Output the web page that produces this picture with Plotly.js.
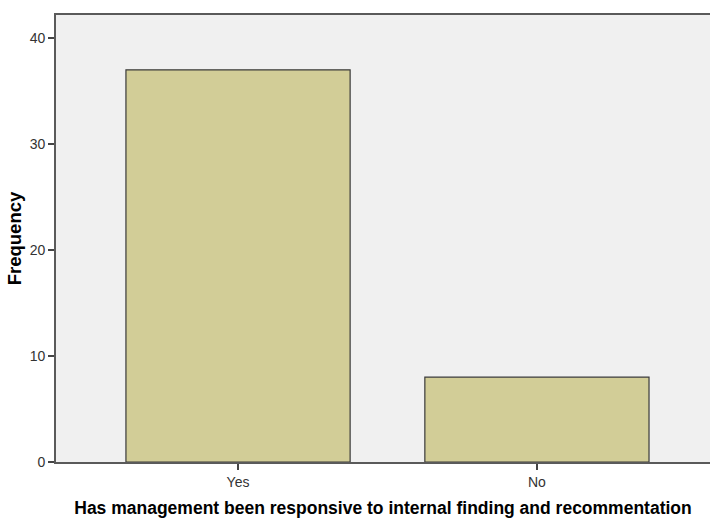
<!DOCTYPE html>
<html>
<head>
<meta charset="utf-8">
<script src="https://cdn.plot.ly/plotly-3.0.1.min.js"></script>
<style>html,body{margin:0;padding:0;background:#fff;}#chart{width:710px;height:522px;}</style>
</head>
<body>
<div id="chart"></div>
<script>
const categories = ["Yes", "No"];
const frequencies = [37, 8];
const yTicks = [0, 10, 20, 30, 40];

const trace = {
  type: "bar",
  x: categories,
  y: frequencies,
  width: 0.75,
  marker: {color: "#d2cd97", line: {color: "#3a3a3a", width: 1.2}},
  hoverinfo: "x+y"
};

const layout = {
  width: 710, height: 522,
  margin: {l: 56, r: 0, t: 15, b: 60},
  paper_bgcolor: "#ffffff",
  plot_bgcolor: "#f0f0f0",
  showlegend: false,
  font: {family: "Liberation Sans, Arial, sans-serif", size: 14, color: "#333"},
  xaxis: {
    type: "category",
    range: [-0.609, 1.579],
    showline: true, linecolor: "#5a5a5a", linewidth: 1.8, mirror: true,
    ticks: "outside", ticklen: 6, tickcolor: "#444", tickwidth: 1.2,
    showgrid: false, zeroline: false,
    tickfont: {size: 14, color: "#333"},
    title: {text: "Has management been responsive to internal finding and recommentation",
            font: {family: "Liberation Sans, Arial, sans-serif", size: 17.5, color: "#000", weight: "bold"}, standoff: 13}
  },
  yaxis: {
    range: [0, 42.17],
    tickvals: yTicks,
    showline: true, linecolor: "#5a5a5a", linewidth: 1.8, mirror: true,
    ticks: "outside", ticklen: 6, tickcolor: "#444", tickwidth: 1.2,
    showgrid: false, zeroline: false,
    tickfont: {size: 14, color: "#333"},
    title: {text: "Frequency",
            font: {family: "Liberation Sans, Arial, sans-serif", size: 18.5, color: "#000", weight: "bold"}, standoff: 3}
  },
  bargap: 0.25
};

Plotly.newPlot("chart", [trace], layout, {displayModeBar: false, staticPlot: true});
</script>
</body>
</html>
